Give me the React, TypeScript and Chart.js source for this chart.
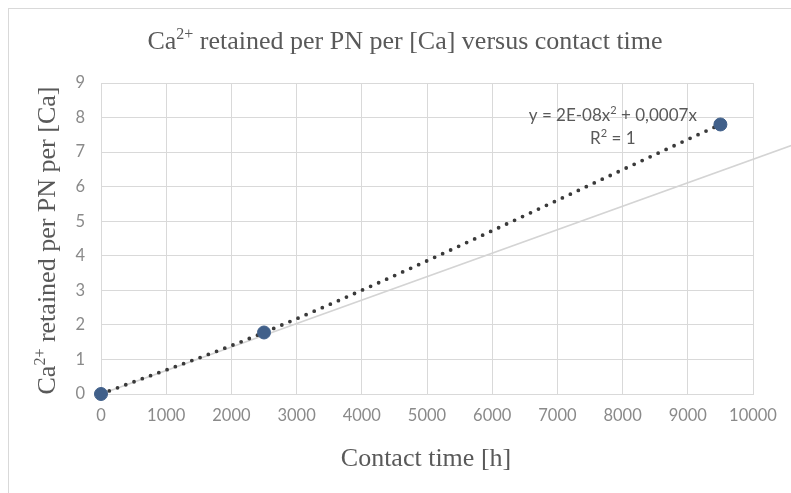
import React, { useEffect, useRef } from 'react';
import { Chart, registerables } from 'chart.js';

Chart.register(...registerables);

// ---- data ----
const contactTime = [0, 2500, 9500];
const caRetained = [0, 1.78, 7.8];
const refLineTime = [0, 10600];
const refLineValue = [0, 7.2];
const xTickMin = 0;
const xTickMax = 10000;
const xTickStep = 1000;
const yTickMin = 0;
const yTickMax = 9;
const yTickStep = 1;

type Part = { t: string; sup?: boolean };
const titleParts: Part[] = [
  { t: 'Ca' },
  { t: '2+', sup: true },
  { t: ' retained per PN per [Ca] versus contact time' },
];
const yTitleParts: Part[] = [
  { t: 'Ca' },
  { t: '2+', sup: true },
  { t: ' retained per PN per [Ca]' },
];
const xTitleParts: Part[] = [{ t: 'Contact time [h]' }];
const equationParts: Part[] = [
  { t: 'y = 2E-08x' },
  { t: '2', sup: true },
  { t: ' + 0,0007x' },
];
const r2Parts: Part[] = [{ t: 'R' }, { t: '2', sup: true }, { t: ' = 1' }];
const equationAt = { x: 7850, y: 8.07 };
const r2At = { x: 7850, y: 7.4 };

const SERIF = '"Liberation Serif", "Times New Roman", serif';
const SANS = 'Lato, "Open Sans", sans-serif';

function drawRich(
  ctx: CanvasRenderingContext2D,
  parts: Part[],
  x: number,
  y: number,
  size: number,
  family: string,
  color: string,
  rotate = 0
) {
  ctx.save();
  ctx.translate(x, y);
  ctx.rotate(rotate);
  ctx.fillStyle = color;
  ctx.textBaseline = 'alphabetic';
  ctx.textAlign = 'left';
  const supSize = Math.round(size * 0.62);
  const widths = parts.map((p) => {
    ctx.font = `${p.sup ? supSize : size}px ${family}`;
    return ctx.measureText(p.t).width;
  });
  const total = widths.reduce((a, b) => a + b, 0);
  let cx = -total / 2;
  const base = size * 0.33;
  parts.forEach((p, i) => {
    ctx.font = `${p.sup ? supSize : size}px ${family}`;
    ctx.fillText(p.t, cx, p.sup ? base - size * 0.38 : base);
    cx += widths[i];
  });
  ctx.restore();
}

const textPlugin = {
  id: 'richText',
  afterDraw(chart: any) {
    const { ctx, chartArea, scales, width } = chart;
    const cxArea = (chartArea.left + chartArea.right) / 2;
    const cyArea = (chartArea.top + chartArea.bottom) / 2;
    drawRich(ctx, titleParts, width / 2 + 5, 31, 26, SERIF, '#595959');
    drawRich(ctx, yTitleParts, 37.5, cyArea + 2, 26, SERIF, '#595959', -Math.PI / 2);
    drawRich(ctx, xTitleParts, cxArea - 1, 448.5, 26, SERIF, '#595959');
    const xs = scales.x;
    const ys = scales.y;
    drawRich(ctx, equationParts, xs.getPixelForValue(equationAt.x), ys.getPixelForValue(equationAt.y), 17, SANS, '#595959');
    drawRich(ctx, r2Parts, xs.getPixelForValue(r2At.x), ys.getPixelForValue(r2At.y), 17, SANS, '#595959');
  },
};

export default function App() {
  const canvasRef = useRef<HTMLCanvasElement | null>(null);

  useEffect(() => {
    if (!canvasRef.current) return;
    const pts = contactTime.map((x, i) => ({ x, y: caRetained[i] }));
    const ref = refLineTime.map((x, i) => ({ x, y: refLineValue[i] }));
    const chart = new Chart(canvasRef.current, {
      type: 'scatter',
      data: {
        datasets: [
          {
            label: 'reference',
            data: ref,
            showLine: true,
            borderColor: '#d4d4d4',
            borderWidth: 1.6,
            pointRadius: 0,
            clip: false as any,
            order: 3,
          },
          {
            label: 'trend',
            data: pts,
            showLine: true,
            borderColor: '#3a3a3a',
            borderWidth: 3.8,
            borderDash: [0, 8.8],
            borderCapStyle: 'round',
            tension: 0.35,
            cubicInterpolationMode: 'monotone',
            pointRadius: 0,
            clip: false as any,
            order: 2,
          },
          {
            label: 'data',
            data: pts,
            showLine: false,
            backgroundColor: '#41608a',
            borderColor: '#41608a',
            pointRadius: 6.5,
            pointHoverRadius: 6.5,
            clip: false as any,
            order: 1,
          },
        ],
      },
      options: {
        animation: false,
        responsive: false,
        events: [],
        layout: { padding: { top: 74, right: 38, bottom: 0, left: 0 } },
        plugins: {
          legend: { display: false },
          title: { display: false },
          tooltip: { enabled: false },
        },
        scales: {
          x: {
            type: 'linear',
            min: xTickMin,
            max: xTickMax,
            ticks: {
              stepSize: xTickStep,
              color: '#8a8a8a',
              font: { family: SANS, size: 16.5 },
              padding: 12,
              maxRotation: 0,
              autoSkip: false,
              callback: (v: any) => String(v),
            },
            grid: { color: '#d9d9d9', drawTicks: false, lineWidth: 1 },
            border: { color: '#d9d9d9' },
            afterFit: (s: any) => {
              s.height = 99;
            },
          },
          y: {
            type: 'linear',
            min: yTickMin,
            max: yTickMax,
            ticks: {
              stepSize: yTickStep,
              color: '#8a8a8a',
              font: { family: SANS, size: 16.5 },
              padding: 16,
              callback: (v: any) => String(v),
            },
            grid: { color: '#d9d9d9', drawTicks: false, lineWidth: 1 },
            border: { color: '#d9d9d9' },
            afterFit: (s: any) => {
              s.width = 92;
            },
          },
        },
      },
      plugins: [textPlugin],
    });
    return () => chart.destroy();
  }, []);

  return (
    <div
      style={{
        position: 'absolute',
        left: 8,
        top: 8,
        width: 783,
        height: 485,
        overflow: 'hidden',
        boxSizing: 'border-box',
        borderLeft: '1px solid #d9d9d9',
        borderTop: '1px solid #d9d9d9',
        background: '#ffffff',
      }}
    >
      <canvas ref={canvasRef} width={782} height={484} style={{ display: 'block', width: 782, height: 484 }} />
    </div>
  );
}
